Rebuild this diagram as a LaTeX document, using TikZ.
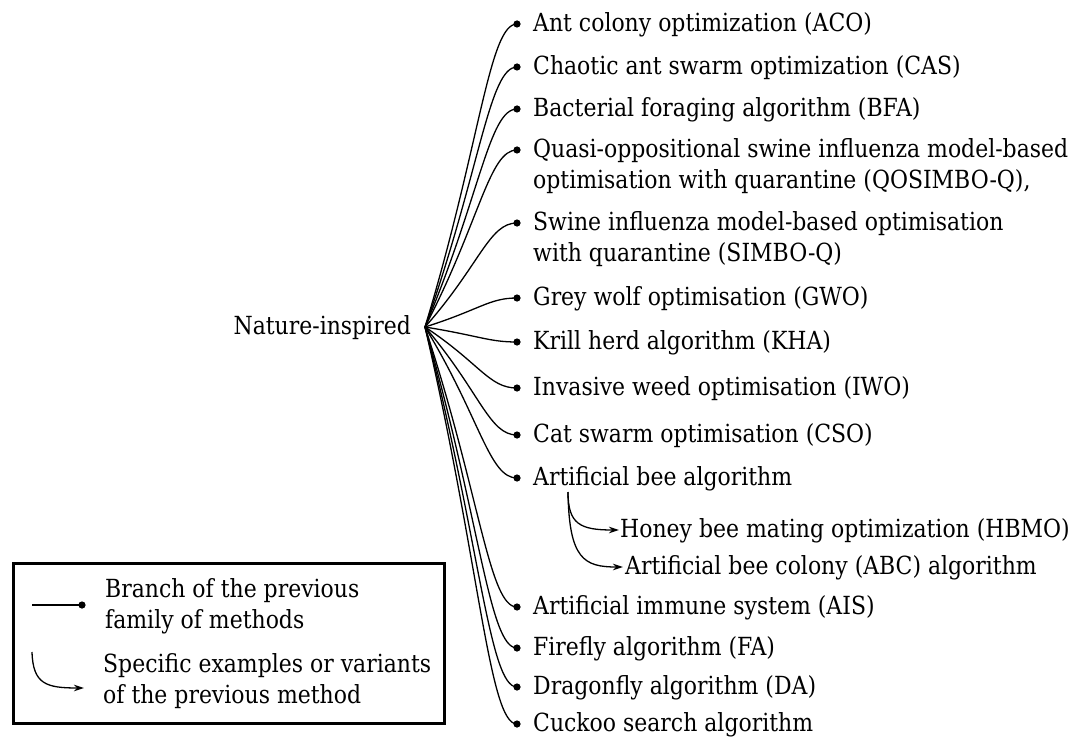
\documentclass[tikz,border=0pt]{standalone}
\usepackage{fontspec}
\setmainfont{DejaVu Serif}[FakeStretch=0.88]
\usetikzlibrary{calc,arrows.meta}
\newlength\refwd
\newcommand\labfont{\fontsize{\labsize}{31}\selectfont}
\begin{document}
% size the text so that the widest line spans 535pt
\settowidth\refwd{\fontsize{20}{24}\selectfont Quasi-oppositional swine influenza model-based}%
\pgfmathsetmacro\labsizetmp{20*535/\refwd}%
\global\let\labsize\labsizetmp
\begin{tikzpicture}[x=1pt,y=-1pt]
\tikzset{
  lab/.style={anchor=north west, inner sep=0pt, align=left, yshift=14pt, font=\labfont},
  branch/.style={line width=1.3pt},
  variant/.style={line width=1.3pt, -{Stealth[length=10pt,width=6.5pt,inset=3pt]}},
}
\useasboundingbox (0,0) rectangle (1070,738);

% root of the tree
\coordinate (hub) at (425,327);
\node[font=\labfont, anchor=base east, inner sep=0pt] (root) at (411,334) {Nature-inspired};

% branch end points
\foreach \n/\y in {1/24,2/67,3/109,4/150,5/223,6/298,7/342,8/388,9/435,10/478,11/607,12/648,13/687,14/724}
  \coordinate (d\n) at (517,\y);

% branch labels
\node[lab] (t1) at (533,24) {\strut Ant colony optimization (ACO)};
\node[lab] (t2) at (533,67) {\strut Chaotic ant swarm optimization (CAS)};
\node[lab] (t3) at (533,109) {\strut Bacterial foraging algorithm (BFA)};
\node[lab] (t4) at (533,150) {\strut Quasi-oppositional swine influenza model-based\\optimisation with quarantine (QOSIMBO-Q),};
\node[lab] (t5) at (533,223) {\strut Swine influenza model-based optimisation\\with quarantine (SIMBO-Q)};
\node[lab] (t6) at (533,298) {\strut Grey wolf optimisation (GWO)};
\node[lab] (t7) at (533,342) {\strut Krill herd algorithm (KHA)};
\node[lab] (t8) at (533,388) {\strut Invasive weed optimisation (IWO)};
\node[lab] (t9) at (533,435) {\strut Cat swarm optimisation (CSO)};
\node[lab] (t10) at (533,478) {\strut Artificial bee algorithm};
\node[lab] (t11) at (533,607) {\strut Artificial immune system (AIS)};
\node[lab] (t12) at (533,648) {\strut Firefly algorithm (FA)};
\node[lab] (t13) at (533,687) {\strut Dragonfly algorithm (DA)};
\node[lab] (t14) at (533,724) {\strut Cuckoo search algorithm};

% branches from the root
\foreach \n in {1,...,14} {
  \draw[branch] (hub) .. controls ($(hub)!0.6!(d\n)$) and ($(d\n)+(-28,0)$) .. (d\n);
  \fill (d\n) circle (3.6pt);
}

% variants of the artificial bee algorithm
\coordinate (bs) at (568,492);
\coordinate (hb) at (619,530);
\coordinate (ab) at (623,567);
\node[lab] (t15) at (620,530) {\strut Honey bee mating optimization (HBMO)};
\node[lab] (t16) at (625,567) {\strut Artificial bee colony (ABC) algorithm};
\draw[variant] (bs) .. controls ($(bs|-hb)+(0,-6)$) and ($(bs|-hb)+(12,0)$) .. (hb);
\draw[variant] (bs) .. controls ($(bs|-ab)+(1,-8)$) and ($(bs|-ab)+(16,0)$) .. (ab);

% legend
\node[draw, line width=3pt, anchor=north west, inner sep=0pt,
      minimum width=431pt, minimum height=160pt] (legend) at (12,562) {};
\coordinate (lb1) at (32,605);
\coordinate (lb2) at (82,605);
\draw[branch] (lb1) -- (lb2);
\fill (lb2) circle (3.6pt);
\node[lab] (l1) at (105,590) {\strut Branch of the previous\\family of methods};
\coordinate (lv1) at (32,652);
\coordinate (lv2) at (84,688);
\draw[variant] (lv1) .. controls ($(lv1|-lv2)+(1,-4)$) and ($(lv1|-lv2)+(14,0)$) .. (lv2);
\node[lab] (l2) at (103,665) {\strut Specific examples or variants\\of the previous method};
\end{tikzpicture}
\end{document}
